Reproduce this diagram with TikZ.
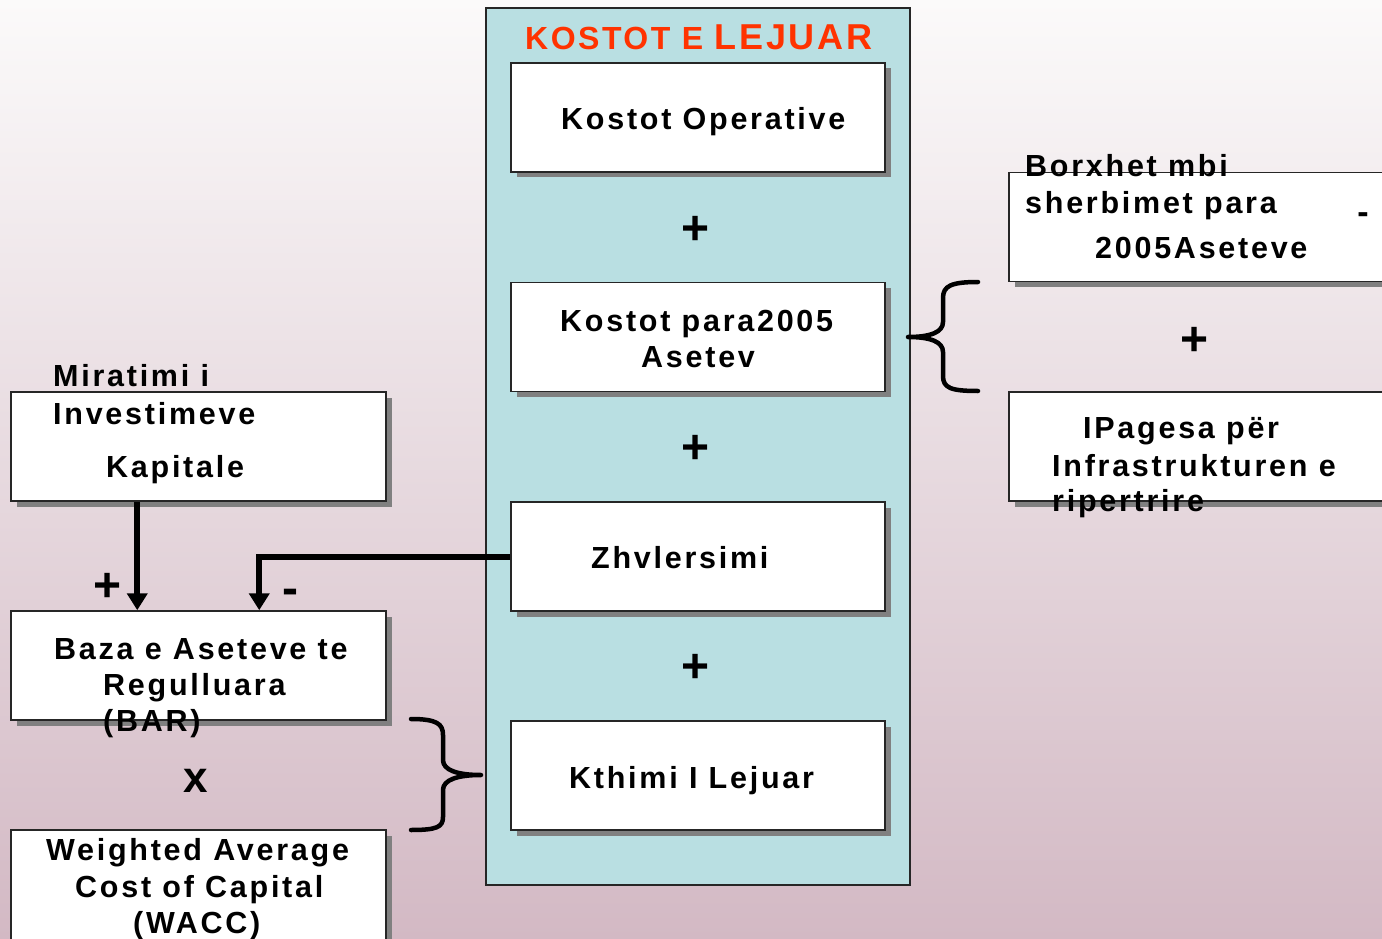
\documentclass[tikz,border=0pt]{standalone}
\usepackage{fontspec}
\setmainfont{Liberation Sans}[LetterSpace=9]
\usetikzlibrary{arrows.meta,shadows}
\definecolor{panelblue}{RGB}{185,223,226}
\definecolor{bgtop}{RGB}{251,250,250}
\definecolor{bgbot}{RGB}{211,185,196}
\definecolor{titlered}{RGB}{255,51,0}
\newcommand{\boxfont}{\fontsize{30.5}{36}\selectfont\bfseries}
\begin{document}
\begin{tikzpicture}[x=1pt,y=-1pt,
  box/.style={draw=black!85, line width=1.5pt, fill=white, inner sep=0pt,
    minimum width=374pt, minimum height=109pt,
    drop shadow={shadow xshift=5.5pt, shadow yshift=-5.5pt, fill=black!50, opacity=1}},
  txt/.style={inner sep=0pt, anchor=base west, font=\boxfont},
  sym/.style={inner sep=0pt, font=\fontsize{48}{48}\selectfont\bfseries},
  conn/.style={line width=6pt, -{Triangle[width=20pt,length=17pt]}},
  brace/.style={line width=4.5pt, line cap=round, line join=round}]
\clip (0,0) rectangle (1382,939);
\shade[top color=bgtop, bottom color=bgbot] (0,0) rectangle (1382,939);

% central panel
\node[draw=black!85, line width=1.5pt, fill=panelblue, minimum width=424pt,
  minimum height=877pt, inner sep=0pt] (panel) at (698,446.5) {};
\node[inner sep=0pt, anchor=base west, text=titlered,
  font=\bfseries\addfontfeature{LetterSpace=7.8}] (title) at (525,50)
  {\fontsize{32}{36}\selectfont KOSTOT E \fontsize{36}{40}\selectfont LEJUAR};

% boxes in the panel
\node[box] (op)  at (698,117.5) {};
\node[box] (para) at (698,337) {};
\node[box] (zhv) at (698,556.5) {};
\node[box] (kth) at (698,775.5) {};

% right boxes
\node[box, minimum width=391pt] (borx) at (1204.5,227) {};
\node[box, minimum width=391pt] (ipag) at (1204.5,446.5) {};

% left boxes
\node[box, minimum width=375pt] (mir)  at (198.5,446.5) {};
\node[box, minimum width=375pt] (baza) at (198.5,665.5) {};
\node[box, minimum width=375pt, minimum height=130pt] (wacc) at (198.5,895) {};

% texts
\node[txt] (t-op) at (561,130) {Kostot Operative};
\node[txt] (t-para1) at (560,331) {Kostot para2005};
\node[txt] (t-para2) at (641,367) {Asetev};
\node[txt] (t-zhv) at (591,568) {Zhvlersimi};
\node[txt] (t-kth) at (569,788) {Kthimi I Lejuar};

\node[txt] (t-b1) at (1025,176) {Borxhet mbi};
\node[txt] (t-b2) at (1025,213) {sherbimet para};
\node[txt] (t-b3) at (1095,258) {2005Aseteve};
\node[txt] (t-i1) at (1083,438) {IPagesa për};
\node[txt] (t-i2) at (1052,476) {Infrastrukturen e};
\node[txt] (t-i3) at (1052,511) {ripertrire};

\node[txt] (t-m1) at (53,386) {Miratimi i};
\node[txt] (t-m2) at (53,424) {Investimeve};
\node[txt] (t-m3) at (106,477) {Kapitale};
\node[txt] (t-z1) at (54,659) {Baza e Aseteve te};
\node[txt] (t-z2) at (103,695) {Regulluara};
\node[txt] (t-z3) at (103,731) {(BAR)};
\node[txt] (t-w1) at (46,860) {Weighted Average};
\node[txt] (t-w2) at (75,897) {Cost of Capital};
\node[txt] (t-w3) at (133,933) {(WACC)};

% operators
\node[sym] (p1) at (696,230) {+};
\node[sym] (p2) at (696,449) {+};
\node[sym] (p3) at (696,668) {+};
\node[sym] (p4) at (1195,341) {+};
\node[sym] (p5) at (108,587) {+};
\node[sym] (m1) at (290,597) {-};
\node[sym, font=\fontsize{34}{34}\selectfont\bfseries] (m2) at (1363,218) {-};
\node[sym, font=\fontsize{44}{44}\selectfont\bfseries] (xx) at (196,781) {x};

% connectors
\draw[conn] ([xshift=127pt]mir.south west) -- ([xshift=127pt]baza.north west);
\coordinate (bm) at ([xshift=249pt]baza.north west);
\draw[conn] (zhv.west) -| (bm);

% braces
\draw[brace] (978,282) .. controls (951,282) and (943,286) .. (943,298) -- (943,322)
  .. controls (943,332) and (931,337) .. (908,337)
  .. controls (931,337) and (943,342) .. (943,352) -- (943,376)
  .. controls (943,388) and (951,391) .. (978,391);
\draw[brace] (411,719) .. controls (437,719) and (443,724) .. (443,735) -- (443,760)
  .. controls (443,770) and (457,775) .. (481,775)
  .. controls (457,775) and (443,780) .. (443,790) -- (443,817)
  .. controls (443,827) and (437,830) .. (411,830);
\end{tikzpicture}
\end{document}
